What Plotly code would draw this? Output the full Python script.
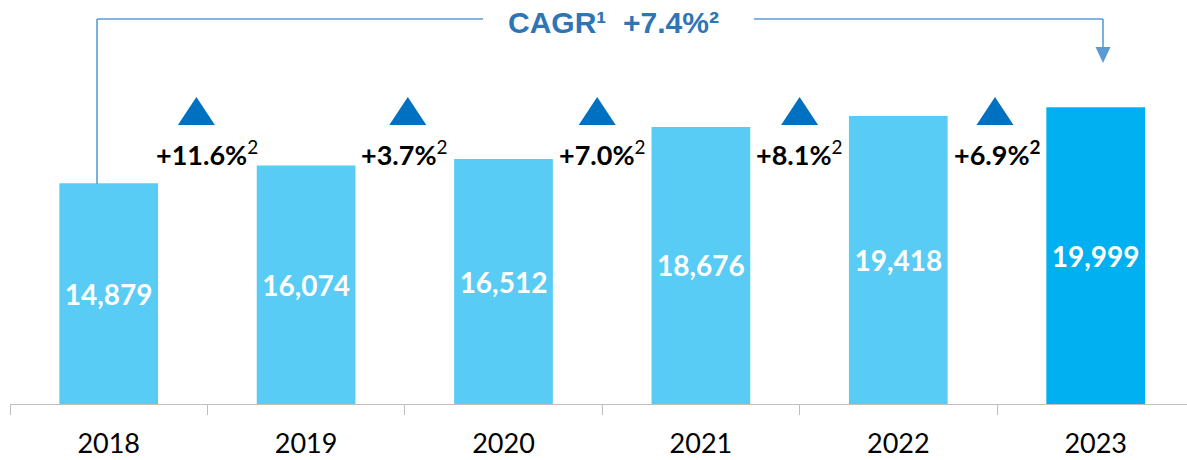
import plotly.graph_objects as go

# ---- data ----
years = ["2018", "2019", "2020", "2021", "2022", "2023"]
values = [14879, 16074, 16512, 18676, 19418, 19999]
growth_labels = ["+11.6%", "+3.7%", "+7.0%", "+8.1%", "+6.9%"]
cagr_label = "+7.4%"

# ---- geometry helpers (layout only) ----
W, H = 1187, 460
ML, MR, MT = 10, 0, 0
BASE = 404                      # y pixel of the axis line
plot_h = BASE - MT
MB = H - MT - plot_h
plot_w = W - ML - MR
cat_w = 197.4
x_max = -0.5 + plot_w / cat_w
units_per_px = 67.4
y_max = plot_h * units_per_px


def px2x(px):
    """x pixel -> category data coordinate"""
    return (px - ML) / cat_w - 0.5


def py2y(py):
    """y pixel -> data coordinate"""
    return (BASE - py) * units_per_px


LIGHT = "#58CCF5"
DARK = "#00B0F0"
TRI = "#0070C0"
BRACKET = "#5B9BD5"
CAGR_COL = "#2E75B6"
FONT = "Lato, Carlito, Calibri, sans-serif"

colors = [LIGHT] * (len(years) - 1) + [DARK]

fig = go.Figure()
fig.add_trace(go.Bar(
    x=years, y=values, width=0.5,
    marker=dict(color=colors, line=dict(width=0)),
    text=[f"{v:,}" for v in values],
    textposition="inside", insidetextanchor="middle",
    textfont=dict(family=FONT, size=28, color="white", weight="bold"),
    hoverinfo="skip",
))

shapes = []
annotations = []

# growth triangles + labels
tri_offsets = [-11, 3, -5, 0, -2]
hw = 18.5 / cat_w
for i, lab in enumerate(growth_labels):
    xc = px2x(ML + (i + 1) * cat_w + tri_offsets[i])
    yb, yt = py2y(125), py2y(97)
    shapes.append(dict(
        type="path", xref="x", yref="y",
        path=f"M {xc-hw},{yb} L {xc+hw},{yb} L {xc},{yt} Z",
        fillcolor=TRI, line=dict(width=0), layer="above"))
    if i == len(growth_labels) - 1:
        txt = f"<b>{lab}<sup>2</sup></b>"
    else:
        txt = f"<b>{lab}</b><sup>2</sup>"
    annotations.append(dict(
        x=i + 0.5, y=py2y(153), xref="x", yref="y", text=txt,
        showarrow=False, xanchor="center", yanchor="middle",
        font=dict(family=FONT, size=27, color="black")))

# CAGR bracket
xl, xr = px2x(97), px2x(1103)
ytop = py2y(19)
line_style = dict(color=BRACKET, width=1.6)
shapes += [
    dict(type="line", xref="x", yref="y", x0=xl, x1=xl, y0=py2y(184), y1=ytop, line=line_style),
    dict(type="line", xref="x", yref="y", x0=xl, x1=px2x(483), y0=ytop, y1=ytop, line=line_style),
    dict(type="line", xref="x", yref="y", x0=px2x(754), x1=xr, y0=ytop, y1=ytop, line=line_style),
    dict(type="line", xref="x", yref="y", x0=xr, x1=xr, y0=ytop, y1=py2y(48), line=line_style),
    dict(type="path", xref="x", yref="y",
         path=f"M {px2x(1095.5)},{py2y(47)} L {px2x(1110.5)},{py2y(47)} L {xr},{py2y(63)} Z",
         fillcolor=BRACKET, line=dict(width=0)),
]
annotations.append(dict(
    x=px2x(613), y=py2y(22), xref="x", yref="y",
    text=f"<b>CAGR\u00b9&nbsp; {cagr_label}\u00b2</b>",
    showarrow=False, xanchor="center", yanchor="middle",
    font=dict(family="Liberation Sans, Arial, sans-serif", size=30, color=CAGR_COL)))

fig.update_layout(
    width=W, height=H,
    margin=dict(l=ML, r=MR, t=MT, b=MB, pad=0),
    plot_bgcolor="white", paper_bgcolor="white",
    showlegend=False, bargap=0.5,
    hovermode=False,
    shapes=shapes, annotations=annotations,
    xaxis=dict(
        type="category", range=[-0.5, x_max],
        tickson="boundaries", ticks="outside", ticklen=10,
        tickcolor="#BFBFBF", tickwidth=1,
        showline=True, linecolor="#BFBFBF", linewidth=1,
        showgrid=False, zeroline=False,
        tickfont=dict(family=FONT, size=27, color="black"),
        ticklabelstandoff=16,
        fixedrange=True,
    ),
    yaxis=dict(visible=False, range=[0, y_max], showgrid=False, zeroline=False, fixedrange=True),
)

fig.write_html("out.html",
               config={"displayModeBar": False, "staticPlot": True},
               post_script="document.body.style.margin='0';document.body.style.overflow='hidden';")
